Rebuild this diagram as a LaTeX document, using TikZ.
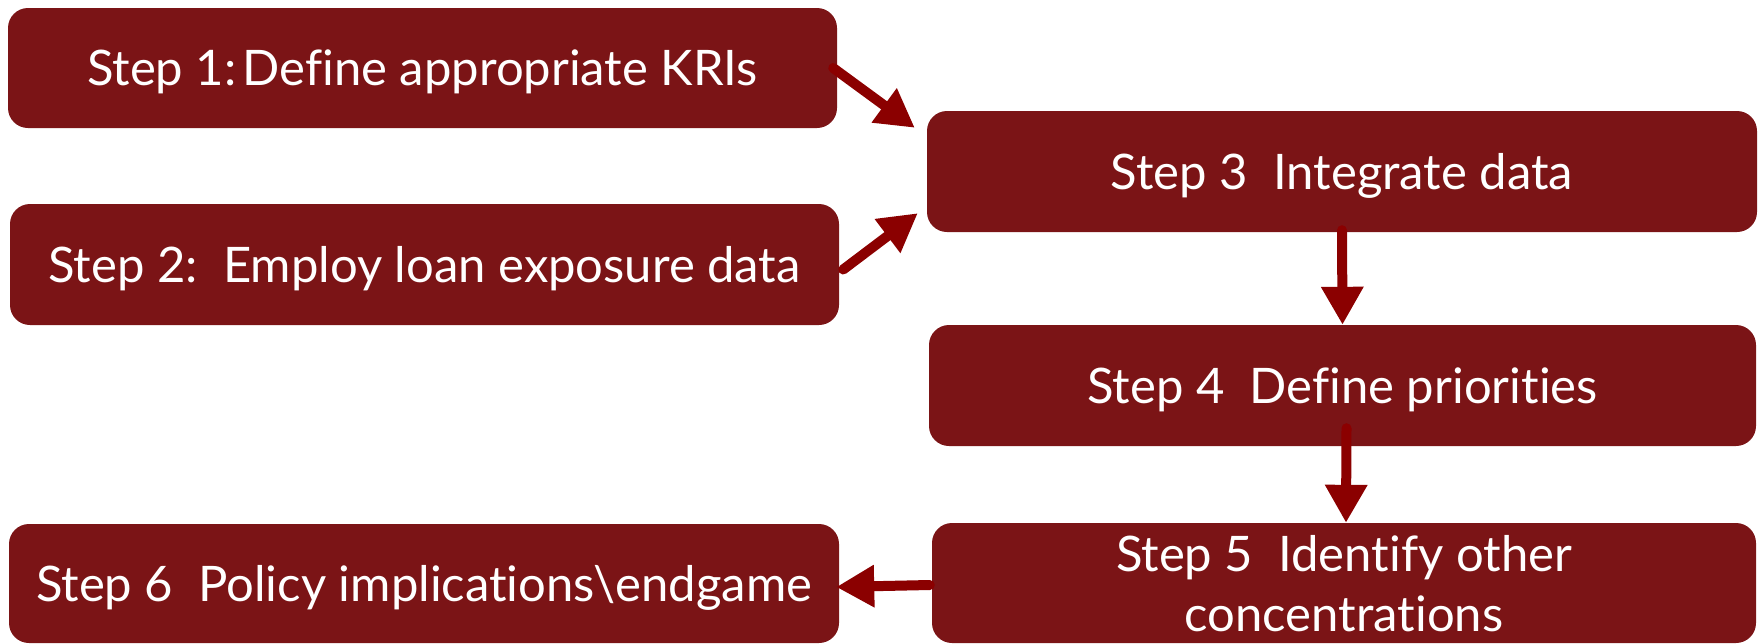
\documentclass[tikz,border=0pt]{standalone}
\usepackage{fontspec}
\setmainfont[Ligatures=NoCommon]{Lato}
\usetikzlibrary{arrows.meta,calc}
\definecolor{boxred}{HTML}{7B1416}
\definecolor{arrred}{HTML}{8B0000}
\begin{document}
\begin{tikzpicture}[x=1pt,y=-1pt,
  stepbox/.style={fill=boxred, draw=none, rounded corners=20pt, inner sep=0pt,
    text=white, align=center, text depth=-6pt, font=\fontsize{49}{60}\selectfont},
  flow/.style={draw=arrred, line width=10pt, line cap=round,
    -{Triangle[width=40pt,length=38pt]}}]
\useasboundingbox (0,0) rectangle (1762,643);
\node[stepbox, minimum width=829pt, minimum height=120pt] (s1) at (422.5,68) {Step 1:\hspace{0.12em}Define appropriate KRIs};
\node[stepbox, minimum width=829pt, minimum height=121pt] (s2) at (424.5,264.5) {Step 2:\ \ Employ loan exposure data};
\node[stepbox, minimum width=830pt, minimum height=121pt] (s3) at (1342,171.5) {Step 3\ \ Integrate data};
\node[stepbox, minimum width=827pt, minimum height=121pt] (s4) at (1342.5,385.5) {Step 4\ \ Define priorities};
\node[stepbox, minimum width=824pt, minimum height=120pt] (s5) at (1344,583) {Step 5\ \ Identify other\\concentrations};
\node[stepbox, minimum width=830pt, minimum height=119pt] (s6) at (424,583.5) {Step 6\ \ Policy implications\textbackslash endgame};
\draw[flow] ($(s1.east)+(-4,0)$) -- ($(s3.north west)+(-12,17)$);
\draw[flow] ($(s2.east)+(4,5)$) -- ($(s3.south west)+(-9,-19)$);
\draw[flow] ($(s3.south)+(0,-2)$) -- (s4.north);
\draw[flow] ($(s4.south)+(4,-18)$) -- ($(s5.north)+(2,0)$);
\draw[flow] ($(s5.west)+(-2,2)$) -- ($(s6.east)+(-3,3.5)$);
\end{tikzpicture}
\end{document}
